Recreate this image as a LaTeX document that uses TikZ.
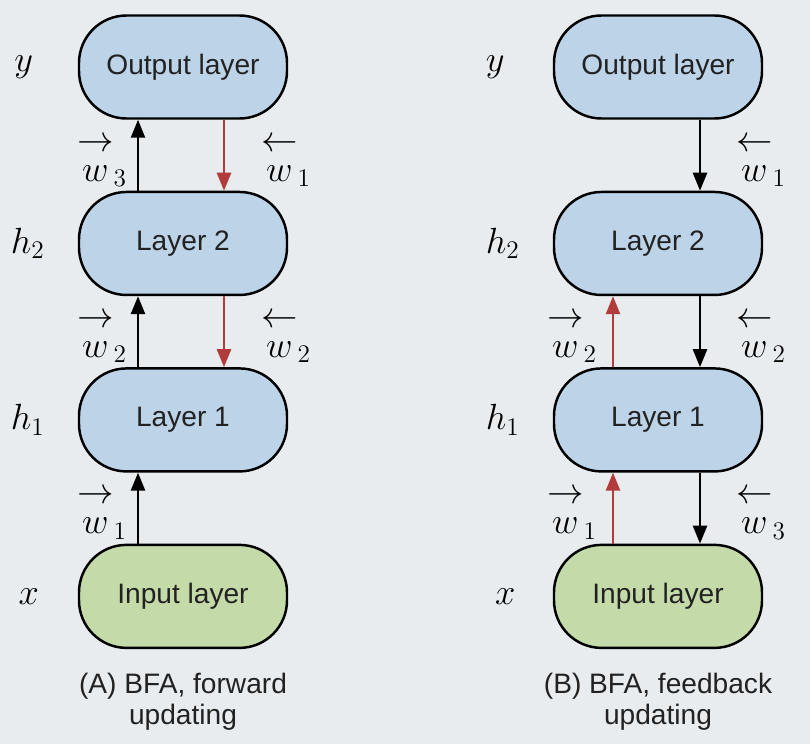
\documentclass[tikz,border=0pt]{standalone}
\usepackage{amsmath}
\usepackage{fontspec}
\setsansfont{Liberation Sans}
\usetikzlibrary{arrows.meta, positioning}
\definecolor{bggray}{HTML}{E9ECEF}
\definecolor{layerblue}{HTML}{BCD3E8}
\definecolor{layergreen}{HTML}{C4DAA9}
\definecolor{fbred}{HTML}{B23B3B}
\definecolor{textgray}{HTML}{222222}

\newcommand{\fw}[1]{\overset{\raisebox{4pt}{$\textstyle\rightarrow$}}{w}_{#1}}
\newcommand{\bw}[1]{\overset{\raisebox{4pt}{$\textstyle\leftarrow$}}{w}_{#1}}

\tikzset{
  layerbox/.style={draw=black, line width=1.4pt, rounded corners=0.95cm,
    minimum width=4.16cm, minimum height=2.06cm,
    font=\sffamily\fontsize{16}{19}\selectfont, text=textgray},
  hiddenbox/.style={layerbox, fill=layerblue},
  inputbox/.style={layerbox, fill=layergreen},
  conn/.style={line width=1.4pt, -{Triangle[length=0.36cm,width=0.28cm]}},
  fbconn/.style={conn, fbred},
  varlabel/.style={font=\fontsize{22}{26}\selectfont},
  wlabel/.style={font=\fontsize{21}{25}\selectfont, inner sep=0pt, yshift=-0.1cm},
  caption/.style={font=\sffamily\fontsize{16}{17.5}\selectfont, align=center, text=textgray}
}

\begin{document}
\begin{tikzpicture}
  \fill[bggray] (0,0) rectangle (16.2,14.88);
  \useasboundingbox (0,0) rectangle (16.2,14.88);

  % (A) forward updating
  \node[hiddenbox] (outA) at (3.66,13.54) {Output layer};
  \node[hiddenbox, below=1.42cm of outA] (ltwoA) {Layer 2};
  \node[hiddenbox, below=1.42cm of ltwoA] (loneA) {Layer 1};
  \node[inputbox, below=1.42cm of loneA] (inA) {Input layer};
  \node[caption, below=0.36cm of inA] (capA) {(A) BFA, forward\\updating};

  \node[varlabel] (yA) at ([xshift=-1.08cm]outA.west) {$y$};
  \node[varlabel] (htwoA) at ([xshift=-1.0cm]ltwoA.west) {$h_2$};
  \node[varlabel] (honeA) at ([xshift=-1.0cm]loneA.west) {$h_1$};
  \node[varlabel] (xA) at ([xshift=-0.98cm]inA.west) {$x$};

  \draw[conn] ([xshift=-0.9cm]inA.north) -- node[wlabel, left=0.2cm] {$\fw{1}$} ([xshift=-0.9cm]loneA.south);
  \draw[conn] ([xshift=-0.9cm]loneA.north) -- node[wlabel, left=0.2cm] {$\fw{2}$} ([xshift=-0.9cm]ltwoA.south);
  \draw[conn] ([xshift=-0.9cm]ltwoA.north) -- node[wlabel, left=0.2cm] {$\fw{3}$} ([xshift=-0.9cm]outA.south);
  \draw[fbconn] ([xshift=0.82cm]outA.south) -- node[wlabel, right=0.72cm, black] {$\bw{1}$} ([xshift=0.82cm]ltwoA.north);
  \draw[fbconn] ([xshift=0.82cm]ltwoA.south) -- node[wlabel, right=0.72cm, black] {$\bw{2}$} ([xshift=0.82cm]loneA.north);

  % (B) feedback updating
  \node[hiddenbox] (outB) at (13.16,13.54) {Output layer};
  \node[hiddenbox, below=1.42cm of outB] (ltwoB) {Layer 2};
  \node[hiddenbox, below=1.42cm of ltwoB] (loneB) {Layer 1};
  \node[inputbox, below=1.42cm of loneB] (inB) {Input layer};
  \node[caption, below=0.36cm of inB] (capB) {(B) BFA, feedback\\updating};

  \node[varlabel] (yB) at ([xshift=-1.15cm]outB.west) {$y$};
  \node[varlabel] (htwoB) at ([xshift=-1.0cm]ltwoB.west) {$h_2$};
  \node[varlabel] (honeB) at ([xshift=-1.0cm]loneB.west) {$h_1$};
  \node[varlabel] (xB) at ([xshift=-0.95cm]inB.west) {$x$};

  \draw[fbconn] ([xshift=-0.9cm]inB.north) -- node[wlabel, left=0.3cm, black] {$\fw{1}$} ([xshift=-0.9cm]loneB.south);
  \draw[fbconn] ([xshift=-0.9cm]loneB.north) -- node[wlabel, left=0.3cm, black] {$\fw{2}$} ([xshift=-0.9cm]ltwoB.south);
  \draw[conn] ([xshift=0.84cm]outB.south) -- node[wlabel, right=0.7cm] {$\bw{1}$} ([xshift=0.84cm]ltwoB.north);
  \draw[conn] ([xshift=0.84cm]ltwoB.south) -- node[wlabel, right=0.7cm] {$\bw{2}$} ([xshift=0.84cm]loneB.north);
  \draw[conn] ([xshift=0.84cm]loneB.south) -- node[wlabel, right=0.7cm] {$\bw{3}$} ([xshift=0.84cm]inB.north);
\end{tikzpicture}
\end{document}
